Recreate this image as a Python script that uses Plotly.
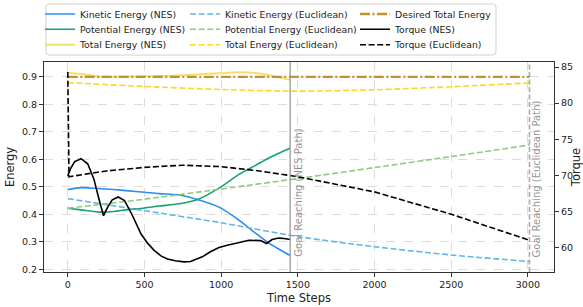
import plotly.graph_objects as go

# ---------------- data ----------------
steps_nes = [0, 86, 200, 300, 379, 500, 596, 727, 856, 986, 1116, 1224, 1311, 1380, 1450]
kinetic_nes = [0.490, 0.497, 0.494, 0.490, 0.486, 0.480, 0.475, 0.470, 0.452, 0.426, 0.379, 0.331, 0.295, 0.272, 0.250]
potential_nes = [0.422, 0.416, 0.408, 0.410, 0.416, 0.423, 0.430, 0.438, 0.456, 0.495, 0.545, 0.578, 0.605, 0.623, 0.640]
total_nes = [0.915, 0.910, 0.901, 0.900, 0.901, 0.902, 0.903, 0.905, 0.909, 0.913, 0.917, 0.914, 0.906, 0.898, 0.889]

steps_euc = [0, 500, 1000, 1500, 2000, 2500, 3010]
kinetic_euc = [0.457, 0.413, 0.369, 0.319, 0.282, 0.252, 0.228]
potential_euc = [0.422, 0.455, 0.492, 0.530, 0.570, 0.610, 0.652]
total_euc = [0.879, 0.865, 0.854, 0.848, 0.853, 0.864, 0.878]

desired_steps = [0, 3010]
desired_total = [0.9, 0.9]

torque_nes_steps = [0, 20, 45, 86, 130, 170, 200, 233, 260, 290, 329, 370, 420, 477, 520, 563,
                    610, 650, 700, 758, 800, 877, 930, 986, 1040, 1094, 1181, 1257, 1296, 1332,
                    1376, 1410, 1450]
torque_nes = [69.9, 71.0, 71.9, 72.3, 71.6, 69.5, 67.0, 64.4, 65.6, 66.6, 67.0, 66.5, 64.5, 61.9,
              60.6, 59.6, 58.8, 58.4, 58.15, 58.0, 58.05, 58.7, 59.4, 60.0, 60.3, 60.6, 61.0,
              60.95, 60.55, 61.1, 61.3, 61.25, 61.1]

torque_euc_steps = [0, 8, 250, 500, 750, 1000, 1250, 1500, 2000, 2500, 3010]
torque_euc = [84.3, 69.8, 70.6, 71.1, 71.4, 71.2, 70.6, 69.8, 67.7, 64.6, 61.0]

nes_goal = 1450
euc_goal = 3010

x_ticks = [0, 500, 1000, 1500, 2000, 2500, 3000]
energy_ticks = [0.2, 0.3, 0.4, 0.5, 0.6, 0.7, 0.8, 0.9]
torque_ticks = [60, 65, 70, 75, 80, 85]

FONT = "DejaVu Sans"
W, H = 583, 307
ML, MR, MT, MB = 44, 29, 62, 35
PW, PH = W - ML - MR, H - MT - MB

def px_x(p):
    return (p - ML) / PW

def px_y(p):
    return (H - MB - p) / PH

fig = go.Figure()

def add(x, y, name, color, dash="solid", width=1.6, yaxis="y", legend="legend", shape="spline"):
    fig.add_trace(go.Scatter(
        x=x, y=y, name=name, mode="lines", yaxis=yaxis, legend=legend,
        line=dict(color=color, dash=dash, width=width, shape=shape,
                  smoothing=0.8 if shape == "spline" else None),
    ))

DASH = "6px,2.6px"
add(steps_nes, kinetic_nes, "Kinetic Energy (NES)", "#2a8cf4", legend="legend")
add(steps_nes, potential_nes, "Potential Energy (NES)", "#17a174", legend="legend2")
add(steps_nes, total_nes, "Total Energy (NES)", "rgba(240,222,90,0.9)", width=2.0, legend="legend3")
add(steps_euc, kinetic_euc, "Kinetic Energy (Euclidean)", "#5fb6e8", dash=DASH, legend="legend4")
add(steps_euc, potential_euc, "Potential Energy (Euclidean)", "#8cca7e", dash=DASH, legend="legend5")
add(steps_euc, total_euc, "Total Energy (Euclidean)", "#ffd523", dash=DASH, legend="legend6")
add(desired_steps, desired_total, "Desired Total Energy", "#c3922c", dash="10px,2.5px,2px,2.5px",
    width=2.4, legend="legend7", shape="linear")
add(torque_nes_steps, torque_nes, "Torque (NES)", "black", yaxis="y2", legend="legend8", shape="linear")
add(torque_euc_steps, torque_euc, "Torque (Euclidean)", "black", dash=DASH, yaxis="y2",
    legend="legend9", shape="linear")

# goal lines
fig.add_vline(x=nes_goal, line=dict(color="rgba(150,150,150,0.8)", width=1.6), layer="above")
fig.add_vline(x=euc_goal, line=dict(color="rgba(150,150,150,0.8)", width=1.6, dash="5px,2.5px"), layer="above")
for gx, txt in [(nes_goal, "Goal Reaching (NES Path)"), (euc_goal, "Goal Reaching (Euclidean Path)")]:
    fig.add_annotation(x=gx, y=px_y(259), xref="x", yref="paper", text=txt, textangle=-90,
                       showarrow=False, xanchor="left", yanchor="bottom", xshift=0,
                       font=dict(family=FONT, size=10, color="rgba(128,128,128,0.85)"))

# legend box (rounded)
bx0, bx1, by0, by1, r = 46, 496, 4, 55, 3
def P(px, py):
    return f"{px_x(px):.5f},{px_y(py):.5f}"
box_path = (f"M{P(bx0 + r, by0)} L{P(bx1 - r, by0)} Q{P(bx1, by0)} {P(bx1, by0 + r)} "
            f"L{P(bx1, by1 - r)} Q{P(bx1, by1)} {P(bx1 - r, by1)} "
            f"L{P(bx0 + r, by1)} Q{P(bx0, by1)} {P(bx0, by1 - r)} "
            f"L{P(bx0, by0 + r)} Q{P(bx0, by0)} {P(bx0 + r, by0)} Z")
fig.add_shape(type="path", xref="paper", yref="paper", path=box_path,
              line=dict(color="#d0d0d0", width=1), fillcolor="rgba(255,255,255,0.9)", layer="above")

col_text_x = [80, 225, 395]
row_center_y = [14, 29.3, 44.7]
legend_names = ["legend", "legend2", "legend3", "legend4", "legend5", "legend6", "legend7", "legend8", "legend9"]
layout_legends = {}
for i, ln in enumerate(legend_names):
    col, row = divmod(i, 3)
    layout_legends[ln] = dict(
        x=px_x(col_text_x[col] - 40), y=px_y(row_center_y[row] - 14.5),
        xanchor="left", yanchor="top", orientation="v",
        bgcolor="rgba(0,0,0,0)", borderwidth=0, itemwidth=30,
        font=dict(family=FONT, size=9.3, color="#222"),
    )

axis_common = dict(
    showline=True, linecolor="#333", linewidth=1, ticks="outside", ticklen=4,
    tickcolor="#333", tickwidth=1, zeroline=False,
    tickfont=dict(family=FONT, size=9.5, color="#222"),
)

fig.update_layout(
    width=W, height=H,
    margin=dict(l=ML, r=MR, t=MT, b=MB, autoexpand=False),
    paper_bgcolor="white", plot_bgcolor="white",
    font=dict(family=FONT, color="#222"),
    xaxis=dict(range=[-155, 3170], tickvals=x_ticks, mirror=True,
               showgrid=True, gridcolor="#dcdcdc", griddash="dash", gridwidth=0.8,
               title=dict(text="Time Steps", font=dict(family=FONT, size=11.5), standoff=4),
               **axis_common),
    yaxis=dict(range=[0.19, 0.954], tickvals=energy_ticks, tickformat=".1f", mirror=True,
               showgrid=True, gridcolor="#dcdcdc", griddash="dash", gridwidth=0.8,
               title=dict(text="Energy", font=dict(family=FONT, size=11.5), standoff=4),
               **axis_common),
    yaxis2=dict(range=[56.6, 85.7], tickvals=torque_ticks, overlaying="y", side="right",
                showgrid=False,
                title=dict(text="Torque", font=dict(family=FONT, size=11.5), standoff=3),
                **axis_common),
    showlegend=True,
    **layout_legends,
)

fig.write_html(
    "out.html",
    config={"displayModeBar": False},
    post_script="document.body.style.margin='0';document.body.style.overflow='hidden';",
)
